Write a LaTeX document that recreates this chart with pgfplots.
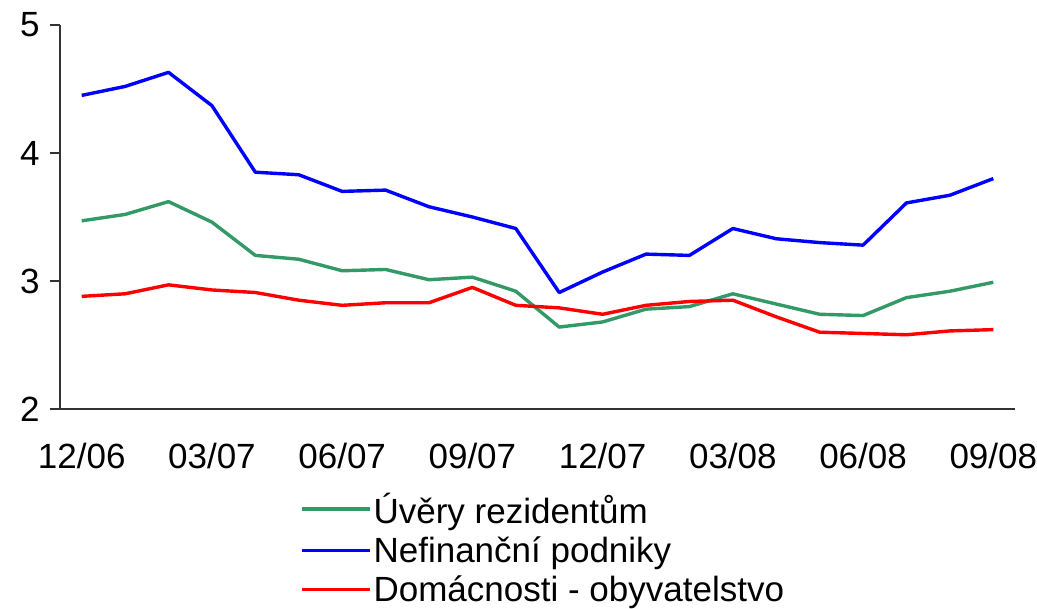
\documentclass[border=0pt]{standalone}
\usepackage{pgfplots}
\pgfplotsset{compat=1.18}
\usepackage{fontspec}
\setmainfont{Liberation Sans}
\definecolor{cgreen}{RGB}{51,153,102}
\definecolor{cblue}{RGB}{0,0,255}
\definecolor{cred}{RGB}{255,0,0}
\begin{document}
\begin{tikzpicture}
\begin{axis}[
  name=ax,
  at={(0,0)}, anchor=south west,
  scale only axis,
  width=955pt, height=384pt,
  xmin=-0.5, xmax=21.5,
  ymin=2, ymax=5,
  axis lines*=left,
  axis line style={line width=1.2pt, color=black!80},
  xtick={0,3,6,9,12,15,18,21},
  xticklabels={12/06,03/07,06/07,09/07,12/07,03/08,06/08,09/08},
  ytick={2,3,4,5},
  x tick style={draw=none},
  y tick style={line width=1.2pt, color=black!80},
  tick align=outside,
  major tick length=10pt,
  tick label style={font=\fontsize{35}{40}\selectfont},
  /pgf/number format/assume math mode=true,
  xticklabel style={yshift=-21pt},
  yticklabel style={xshift=-7pt},
  legend style={draw=none, fill=none, at={(0.2513,-0.213)}, anchor=north west,
    font=\fontsize{35}{40}\selectfont, row sep=8pt, inner sep=0pt,
    legend cell align=left},
  legend image code/.code={\draw[#1] (0pt,0pt) -- (68pt,0pt);},
  legend style={nodes={xshift=2pt}},
  every axis plot/.append style={line width=3.4pt, line join=round},
]
\addplot[cgreen] coordinates {
(0,3.47) (1,3.52) (2,3.62) (3,3.46) (4,3.20) (5,3.17) (6,3.08) (7,3.09)
(8,3.01) (9,3.03) (10,2.92) (11,2.64) (12,2.68) (13,2.78) (14,2.80) (15,2.90)
(16,2.82) (17,2.74) (18,2.73) (19,2.87) (20,2.92) (21,2.99)};
\addlegendentry{Úvěry rezidentům}
\addplot[cblue] coordinates {
(0,4.45) (1,4.52) (2,4.63) (3,4.37) (4,3.85) (5,3.83) (6,3.70) (7,3.71)
(8,3.58) (9,3.50) (10,3.41) (11,2.91) (12,3.07) (13,3.21) (14,3.20) (15,3.41)
(16,3.33) (17,3.30) (18,3.28) (19,3.61) (20,3.67) (21,3.80)};
\addlegendentry{Nefinanční podniky}
\addplot[cred] coordinates {
(0,2.88) (1,2.90) (2,2.97) (3,2.93) (4,2.91) (5,2.85) (6,2.81) (7,2.83)
(8,2.83) (9,2.95) (10,2.81) (11,2.79) (12,2.74) (13,2.81) (14,2.84) (15,2.85)
(16,2.72) (17,2.60) (18,2.59) (19,2.58) (20,2.61) (21,2.62)};
\addlegendentry{Domácnosti - obyvatelstvo}
\end{axis}
\pgfresetboundingbox
\path (-60pt,-200pt) rectangle (977pt,409pt);
\end{tikzpicture}
\end{document}
